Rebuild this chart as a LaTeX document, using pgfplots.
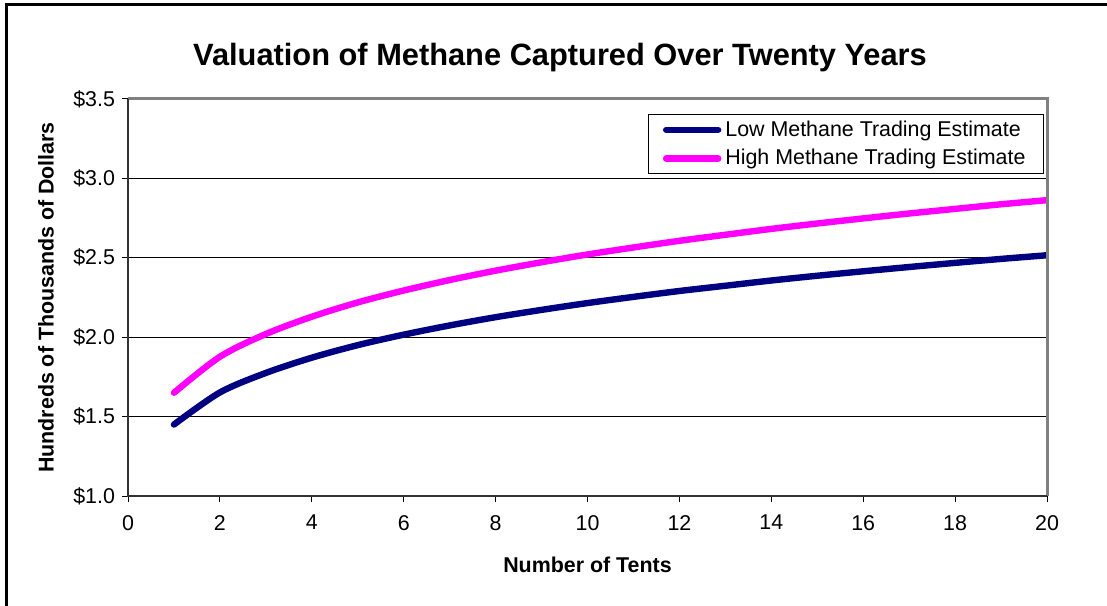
\documentclass[border=0pt]{standalone}
\usepackage{pgfplots}
\pgfplotsset{compat=1.18}
\usepackage{fontspec}
\setmainfont{Liberation Sans}
\definecolor{lowc}{RGB}{0,0,128}
\definecolor{highc}{RGB}{255,0,255}
\definecolor{axgray}{RGB}{128,128,128}
\begin{document}
\begin{tikzpicture}
\useasboundingbox (0,0) rectangle (553.5pt,302.5pt);
\draw[line width=1.5pt] (3pt,-1pt) -- (3pt,300pt) -- (554pt,300pt);
\begin{axis}[
  at={(64pt,54.5pt)}, anchor=south west,
  scale only axis, width=459.5pt, height=198.5pt,
  xmin=0, xmax=20, ymin=1, ymax=3.5,
  xtick={0,2,...,20},
  xticklabels={0,2,4,6,8,10,12,14,16,18,20},
  ytick={1,1.5,2,2.5,3,3.5},
  yticklabels={\$1.0,\$1.5,\$2.0,\$2.5,\$3.0,\$3.5},
  tick align=outside, major tick length=3pt,
  tick style={black, line width=0.5pt},
  xtick pos=bottom, ytick pos=left,
  ymajorgrids, grid style={black, line width=0.5pt},
  axis line style={draw=none},
  tick label style={font=\fontsize{10.7}{12}\selectfont},
  xticklabel style={yshift=-3pt},
  title={Valuation of Methane Captured Over Twenty Years},
  title style={font=\fontsize{15.4}{18}\bfseries, at={([xshift=-13.75pt,yshift=14.5pt]axis description cs:0.5,1)}, anchor=center, yshift=0pt},
  xlabel={Number of Tents},
  xlabel style={font=\fontsize{10.7}{12}\bfseries, at={([yshift=-34.5pt]axis description cs:0.5,0)}, anchor=center},
  ylabel={Hundreds of Thousands of Dollars},
  ylabel style={font=\fontsize{10.7}{12}\bfseries, at={([xshift=-41pt]axis description cs:0,0.5)}, anchor=center, rotate=0},
  legend style={at={(1,1)}, anchor=north east, xshift=-1.5pt, yshift=-7.5pt,
    draw=black, line width=0.5pt, font=\fontsize{10.7}{12}\selectfont,
    inner xsep=7pt, inner ysep=1pt, row sep=1.2pt},
  legend cell align=left,
  legend image code/.code={\draw[#1, line cap=round] (0pt,0pt) -- (26pt,0pt);},
]
\addplot[lowc, line width=3.2pt, smooth, line cap=round] coordinates {
(1,1.450) (2,1.652) (3,1.775) (4,1.871) (5,1.950) (6,2.016) (7,2.074)
(8,2.126) (9,2.172) (10,2.215) (11,2.254) (12,2.291) (13,2.324) (14,2.357)
(15,2.387) (16,2.415) (17,2.442) (18,2.468) (19,2.493) (20,2.516)};
\addlegendentry{Low Methane Trading Estimate}
\addplot[highc, line width=3.2pt, smooth, line cap=round] coordinates {
(1,1.650) (2,1.877) (3,2.020) (4,2.129) (5,2.219) (6,2.294) (7,2.360)
(8,2.419) (9,2.472) (10,2.521) (11,2.565) (12,2.607) (13,2.645) (14,2.682)
(15,2.716) (16,2.748) (17,2.779) (18,2.808) (19,2.837) (20,2.863)};
\addlegendentry{High Methane Trading Estimate}
\end{axis}
% axis frame
\draw[axgray, line width=1.5pt] (64pt,253pt) -- (523.5pt,253pt) -- (523.5pt,54.5pt);
\draw[black!80, line width=0.8pt] (64pt,253pt) -- (64pt,54.5pt) -- (523.5pt,54.5pt);
\end{tikzpicture}
\end{document}
